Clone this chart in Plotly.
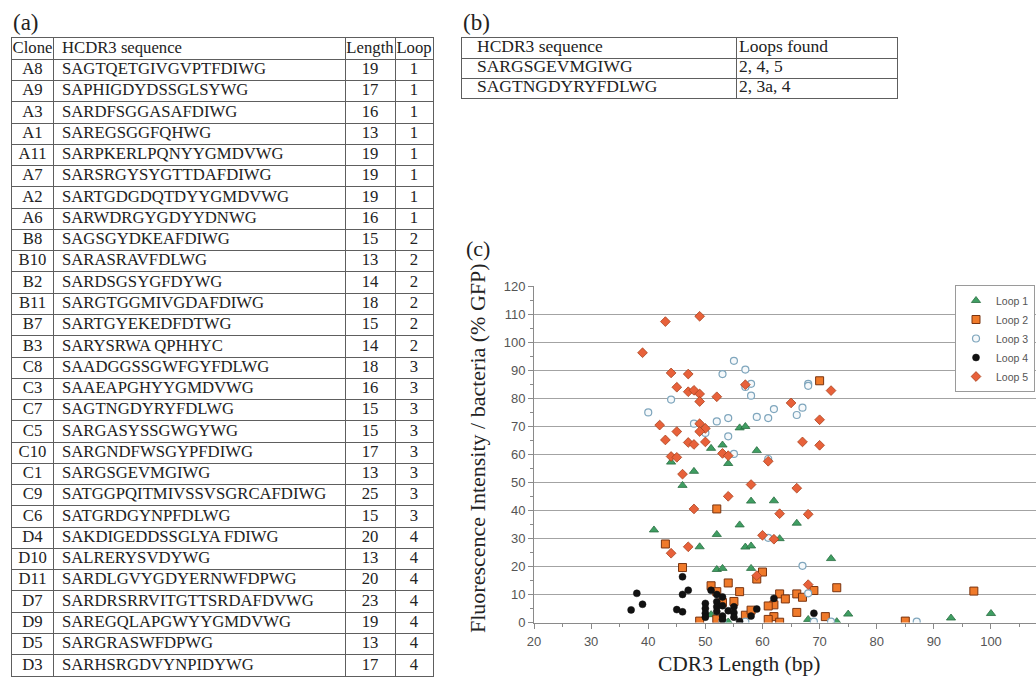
import plotly.graph_objects as go

# ---------------- data: table (a) ----------------
clones = ["A8", "A9", "A3", "A1", "A11", "A7", "A2", "A6",
          "B8", "B10", "B2", "B11", "B7", "B3",
          "C8", "C3", "C7", "C5", "C10", "C1", "C9", "C6",
          "D4", "D10", "D11", "D7", "D9", "D5", "D3"]
sequences = ["SAGTQETGIVGVPTFDIWG", "SAPHIGDYDSSGLSYWG", "SARDFSGGASAFDIWG",
             "SAREGSGGFQHWG", "SARPKERLPQNYYGMDVWG", "SARSRGYSYGTTDAFDIWG",
             "SARTGDGDQTDYYGMDVWG", "SARWDRGYGDYYDNWG",
             "SAGSGYDKEAFDIWG", "SARASRAVFDLWG", "SARDSGSYGFDYWG",
             "SARGTGGMIVGDAFDIWG", "SARTGYEKEDFDTWG", "SARYSRWA QPHHYC",
             "SAADGGSSGWFGYFDLWG", "SAAEAPGHYYGMDVWG", "SAGTNGDYRYFDLWG",
             "SARGASYSSGWGYWG", "SARGNDFWSGYPFDIWG", "SARGSGEVMGIWG",
             "SATGGPQITMIVSSVSGRCAFDIWG", "SATGRDGYNPFDLWG",
             "SAKDIGEDDSSGLYA FDIWG", "SALRERYSVDYWG", "SARDLGVYGDYERNWFDPWG",
             "SARDRSRRVITGTTSRDAFDVWG", "SAREGQLAPGWYYGMDVWG", "SARGRASWFDPWG",
             "SARHSRGDVYNPIDYWG"]
lengths = [19, 17, 16, 13, 19, 19, 19, 16,
           15, 13, 14, 18, 15, 14,
           18, 16, 15, 15, 17, 13, 25, 15,
           20, 13, 20, 23, 19, 13, 17]
loops = [1, 1, 1, 1, 1, 1, 1, 1,
         2, 2, 2, 2, 2, 2,
         3, 3, 3, 3, 3, 3, 3, 3,
         4, 4, 4, 4, 4, 4, 4]
header_a = ["Clone", "HCDR3 sequence", "Length", "Loop"]

# ---------------- data: table (b) ----------------
header_b = ["HCDR3 sequence", "Loops found"]
seq_b = ["SARGSGEVMGIWG", "SAGTNGDYRYFDLWG"]
loops_found = ["2, 4, 5", "2, 3a, 4"]

# ---------------- data: scatter (c) ----------------
loop1_x = [56, 57, 51, 53, 59, 44, 54, 48, 46, 58, 62, 56, 41, 52, 49, 57, 58, 52, 53, 58,
           51, 54, 66, 63, 72, 68, 73, 75, 93, 100]
loop1_y = [69.4, 69.9, 62.1, 63.3, 61.3, 57.2, 56.7, 53.9, 48.9, 43.3, 43.4, 34.8, 33.0, 31.4,
           27.0, 26.9, 27.3, 18.9, 19.3, 19.3, 2.8, 0.2, 35.4, 29.9, 22.8, 1.1, 0.3, 3.0, 1.6, 3.2]

loop2_x = [52, 43, 46, 51, 54, 52, 56, 53, 55, 49, 52, 57, 58, 60, 59, 69, 73, 63, 66, 64,
           67, 62, 61, 62, 61, 63, 66, 71, 85, 97, 70]
loop2_y = [40.5, 28.0, 19.6, 13.1, 14.1, 11.0, 11.0, 7.1, 7.5, 0.5, 1.2, 2.6, 4.4, 18.0, 15.5,
           11.4, 12.4, 10.2, 10.2, 8.4, 9.0, 6.3, 5.9, 2.1, 1.1, 0.1, 3.6, 2.1, 0.5, 11.2, 86.2]

loop3_x = [55, 57, 53, 58, 57, 58, 44, 40, 54, 52, 59, 48, 50, 54, 55, 68, 68, 62, 67, 61,
           66, 61, 61, 67, 68, 69, 72, 87, 53, 57]
loop3_y = [93.3, 90.2, 88.6, 85.1, 84.0, 80.9, 79.5, 74.9, 72.9, 71.7, 73.3, 70.9, 67.6, 66.4,
           60.1, 85.1, 84.4, 76.1, 76.6, 72.9, 74.0, 58.3, 30.2, 20.2, 10.4, 0.3, 0.3, 0.3, 0.3, 0.3]

loop4_x = [38, 39, 37, 46, 46, 47, 45, 46, 51, 52, 53, 50, 50, 50, 50, 52, 52, 52, 53, 53,
           54, 55, 55, 56, 53, 58, 59, 62, 69, 55]
loop4_y = [10.4, 6.5, 4.5, 16.3, 10.0, 11.5, 4.6, 3.8, 11.5, 10.0, 9.1, 6.8, 5.0, 3.3, 1.9,
           7.4, 5.6, 3.9, 2.3, 1.1, 4.2, 3.5, 1.9, 0.4, 6.0, 2.3, 4.8, 8.6, 3.3, 5.6]

loop5_x = [39, 43, 49, 44, 47, 45, 47, 48, 49, 49, 52, 57, 42, 45, 49, 50, 49, 43, 47, 48,
           50, 53, 54, 44, 45, 46, 54, 48, 47, 44, 58, 72, 65, 70, 67, 70, 61, 66, 63, 68,
           60, 62, 59, 68]
loop5_y = [96.2, 107.3, 109.2, 89.0, 88.6, 83.9, 82.3, 82.8, 81.5, 78.8, 80.5, 84.8, 70.4, 68.1,
           70.9, 69.2, 68.1, 65.1, 64.2, 63.5, 64.4, 60.3, 59.5, 59.2, 58.9, 52.9, 45.0, 40.5,
           27.0, 24.7, 49.2, 82.7, 78.3, 72.3, 64.4, 63.2, 57.5, 47.9, 38.8, 38.6, 31.1, 29.7,
           16.7, 13.5]

x_ticks = [20, 30, 40, 50, 60, 70, 80, 90, 100]
y_ticks = [0, 10, 20, 30, 40, 50, 60, 70, 80, 90, 100, 110, 120]

# ---------------- layout constants ----------------
W, H = 1036, 681
SERIF = "Liberation Serif, Times New Roman, serif"
SANS = "Liberation Sans, Arial, sans-serif"
LINE = "#5e5e5e"
TXT = "#222222"


def px(x):
    return x / W


def py(y):
    return 1 - y / H


fig = go.Figure()

# ---------------- table (a): text placed on its own hidden axes ----------------
cols_a = [clones, sequences, lengths, loops]
col_widths_a = [41, 292, 50, 38]
col_edges_a = [sum(col_widths_a[:i]) for i in range(len(col_widths_a) + 1)]
align_a = ["center", "left", "center", "center"]
pad_left = 9
n_rows_a = len(clones) + 1
rows_a = list(range(n_rows_a))
for j, col in enumerate(cols_a):
    if align_a[j] == "center":
        xpos = (col_edges_a[j] + col_edges_a[j + 1]) / 2
        tpos = "middle center"
    else:
        xpos = col_edges_a[j] + pad_left
        tpos = "middle right"
    fig.add_trace(go.Scatter(
        x=[xpos] * n_rows_a, y=rows_a, text=[header_a[j]] + [str(v) for v in col],
        mode="text", textposition=tpos, cliponaxis=False, hoverinfo="skip",
        textfont=dict(family=SERIF, size=16.7, color=TXT), showlegend=False,
        xaxis="x2", yaxis="y2"))

# ---------------- table (b) ----------------
cols_b = [seq_b, loops_found]
col_widths_b = [274, 161]
col_edges_b = [sum(col_widths_b[:i]) for i in range(len(col_widths_b) + 1)]
pads_b = [15, 3]
n_rows_b = len(seq_b) + 1
rows_b = list(range(n_rows_b))
for j, col in enumerate(cols_b):
    fig.add_trace(go.Scatter(
        x=[col_edges_b[j] + pads_b[j]] * n_rows_b, y=rows_b, text=[header_b[j]] + col,
        mode="text", textposition="middle right", cliponaxis=False, hoverinfo="skip",
        textfont=dict(family=SERIF, size=17.5, color=TXT), showlegend=False,
        xaxis="x3", yaxis="y3"))

# ---------------- scatter (c) ----------------
series = [
    ("Loop 1", loop1_x, loop1_y, dict(symbol="triangle-up", size=8, color="#3f9e62",
                                      line=dict(color="#2b6e42", width=0.8))),
    ("Loop 2", loop2_x, loop2_y, dict(symbol="square", size=8, color="#f07a2a",
                                      line=dict(color="#7a3410", width=1))),
    ("Loop 3", loop3_x, loop3_y, dict(symbol="circle", size=7, color="#f6f9fb",
                                      line=dict(color="#7fa6bd", width=1.2))),
    ("Loop 4", loop4_x, loop4_y, dict(symbol="circle", size=7, color="#111111",
                                      line=dict(color="#111111", width=0.5))),
    ("Loop 5", loop5_x, loop5_y, dict(symbol="diamond", size=7.5, color="#e8613a",
                                      line=dict(color="#a8421e", width=0.8))),
]
for name, xs, ys, mk in series:
    fig.add_trace(go.Scatter(x=xs, y=ys, mode="markers", name=name, marker=mk,
                             xaxis="x", yaxis="y"))

annotations = [
    dict(text="(a)", x=px(11), y=py(22), xanchor="left", yanchor="middle",
         font=dict(family=SERIF, size=23, color=TXT)),
    dict(text="(b)", x=px(461), y=py(22), xanchor="left", yanchor="middle",
         font=dict(family=SERIF, size=23, color=TXT)),
    dict(text="(c)", x=px(464), y=py(249), xanchor="left", yanchor="middle",
         font=dict(family=SERIF, size=22, color=TXT)),
    dict(text="Fluorescence Intensity / bacteria (% GFP)", x=px(477), y=py(448),
         xanchor="center", yanchor="middle", textangle=-90,
         font=dict(family=SERIF, size=22, color=TXT)),
    dict(text="CDR3 Length (bp)", x=px(739), y=py(664), xanchor="center", yanchor="middle",
         font=dict(family=SERIF, size=21.5, color=TXT)),
]
for a in annotations:
    a.update(xref="paper", yref="paper", showarrow=False)

table_axis = dict(showgrid=True, gridcolor=LINE, gridwidth=1.2, zeroline=False,
                  showline=True, mirror=True, linecolor=LINE, linewidth=1.2,
                  showticklabels=False, ticks="", fixedrange=True)

fig.update_layout(
    width=W, height=H,
    margin=dict(l=0, r=0, t=0, b=0, autoexpand=False),
    paper_bgcolor="white", plot_bgcolor="white",
    showlegend=True,
    legend=dict(x=px(1035), y=py(285), xanchor="right", yanchor="top",
                bgcolor="white", bordercolor="#9a9a9a", borderwidth=1,
                font=dict(family=SANS, size=10.5, color="#555555"),
                itemwidth=30, tracegroupgap=0),
    xaxis=dict(domain=[px(534), 1], range=[20, 107.88], tickvals=x_ticks,
               showgrid=False, zeroline=False, showline=True, linecolor="#8a8a8a",
               linewidth=1, ticks="outside", ticklen=5, tickcolor="#8a8a8a",
               minor=dict(dtick=5, tick0=0, ticks="outside", ticklen=3, tickcolor="#8a8a8a"),
               tickfont=dict(family=SANS, size=13, color="#555555"), ticklabelstandoff=2),
    yaxis=dict(domain=[py(622.5), py(286)], range=[0, 120], tickvals=y_ticks,
               showgrid=True, gridcolor="#a3a3a3", gridwidth=1, zeroline=False,
               showline=True, linecolor="#8a8a8a", linewidth=1,
               ticks="outside", ticklen=5, tickcolor="#8a8a8a",
               minor=dict(dtick=5, tick0=0, ticks="outside", ticklen=3, tickcolor="#8a8a8a",
                          showgrid=False),
               tickfont=dict(family=SANS, size=13, color="#555555")),
    xaxis2=dict(table_axis, domain=[px(12), px(12 + col_edges_a[-1])],
                range=[0, col_edges_a[-1]], tickvals=col_edges_a[1:-1], anchor="y2"),
    yaxis2=dict(table_axis, domain=[py(676), py(38)], range=[n_rows_a - 0.5, -0.5],
                tickvals=[r + 0.5 for r in rows_a[:-1]], anchor="x2"),
    xaxis3=dict(table_axis, domain=[px(462), px(462 + col_edges_b[-1])],
                range=[0, col_edges_b[-1]], tickvals=col_edges_b[1:-1], anchor="y3"),
    yaxis3=dict(table_axis, domain=[py(98), py(38)], range=[n_rows_b - 0.5, -0.5],
                tickvals=[r + 0.5 for r in rows_b[:-1]], anchor="x3"),
    annotations=annotations,
)

fig.write_html("out.html", config={"displayModeBar": False})
